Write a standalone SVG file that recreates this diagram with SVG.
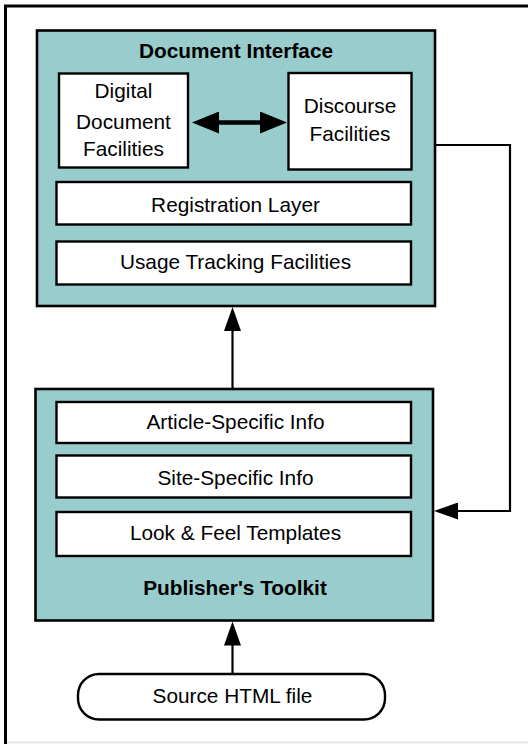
<svg xmlns="http://www.w3.org/2000/svg" width="528" height="744" viewBox="0 0 528 744">
<style>
  .outer { fill: #99cccc; stroke: #000; stroke-width: 2.6; }
  .inner { fill: #fff; stroke: #000; stroke-width: 2.4; }
  .lbl { font-family: "Liberation Sans", Arial, sans-serif; font-size: 20.8px; fill: #000; text-anchor: middle; }
  .title { font-family: "Liberation Sans", Arial, sans-serif; font-size: 20.8px; font-weight: bold; fill: #000; text-anchor: middle; }
  .conn { fill: none; stroke: #000; stroke-width: 2.2; }
  .dbl { fill: none; stroke: #000; stroke-width: 4.5; }
</style>
<defs>
  <marker id="ah" markerUnits="userSpaceOnUse" markerWidth="24" markerHeight="17" refX="2" refY="8.5" orient="auto-start-reverse">
    <path d="M0,0 L24,8.5 L0,17 Z" fill="#000"/>
  </marker>
  <marker id="ahb" markerUnits="userSpaceOnUse" markerWidth="27" markerHeight="22" refX="2" refY="11" orient="auto-start-reverse">
    <path d="M0,0 L27,11 L0,22 Z" fill="#000"/>
  </marker>
</defs>
<rect x="0" y="0" width="528" height="744" fill="#fff"/>
<g id="frame">
  <path d="M5.5,744 V6 H528" fill="none" stroke="#000" stroke-width="3"/>
  <line x1="7" y1="742.5" x2="528" y2="742.5" stroke="#e6e6e6" stroke-width="2"/>
</g>
<g id="document-interface">
  <rect class="outer" x="37" y="30.5" width="398" height="275.5"/>
  <text class="title" x="236" y="58">Document Interface</text>
</g>
<g id="digital-document-facilities">
  <rect class="inner" x="59" y="73.5" width="129" height="94"/>
  <text class="lbl" x="123.5" y="98">Digital</text>
  <text class="lbl" x="123.5" y="129">Document</text>
  <text class="lbl" x="123.5" y="156">Facilities</text>
</g>
<g id="discourse-facilities">
  <rect class="inner" x="288.5" y="73" width="123" height="96.5"/>
  <text class="lbl" x="350" y="113">Discourse</text>
  <text class="lbl" x="350" y="141">Facilities</text>
</g>
<g id="registration-layer">
  <rect class="inner" x="56.5" y="182" width="354.5" height="42.5"/>
  <text class="lbl" x="235.5" y="212">Registration Layer</text>
</g>
<g id="usage-tracking-facilities">
  <rect class="inner" x="56.5" y="241.5" width="354.5" height="43"/>
  <text class="lbl" x="235.5" y="269">Usage Tracking Facilities</text>
</g>
<g id="publishers-toolkit">
  <rect class="outer" x="35.5" y="389" width="397.5" height="231.5"/>
  <text class="title" x="235" y="595">Publisher's Toolkit</text>
</g>
<g id="article-specific-info">
  <rect class="inner" x="56.5" y="402" width="354.5" height="41"/>
  <text class="lbl" x="235.5" y="429">Article-Specific Info</text>
</g>
<g id="site-specific-info">
  <rect class="inner" x="56.5" y="455.5" width="354.5" height="42"/>
  <text class="lbl" x="235.5" y="485">Site-Specific Info</text>
</g>
<g id="look-feel-templates">
  <rect class="inner" x="56.5" y="512" width="354.5" height="44"/>
  <text class="lbl" x="235.5" y="540">Look &amp; Feel Templates</text>
</g>
<g id="source-html-file">
  <rect class="inner" x="78" y="674" width="307" height="45.5" rx="21" ry="21"/>
  <text class="lbl" x="232.5" y="703">Source HTML file</text>
</g>
<g id="connectors">
  <path class="dbl" d="M217,122.5 H262" marker-start="url(#ahb)" marker-end="url(#ahb)"/>
  <path class="conn" d="M232.5,389 V329" marker-end="url(#ah)"/>
  <path class="conn" d="M232.5,674 V643.5" marker-end="url(#ah)"/>
  <path class="conn" d="M435,145 H510 V511 H456" marker-end="url(#ah)"/>
</g>
</svg>
